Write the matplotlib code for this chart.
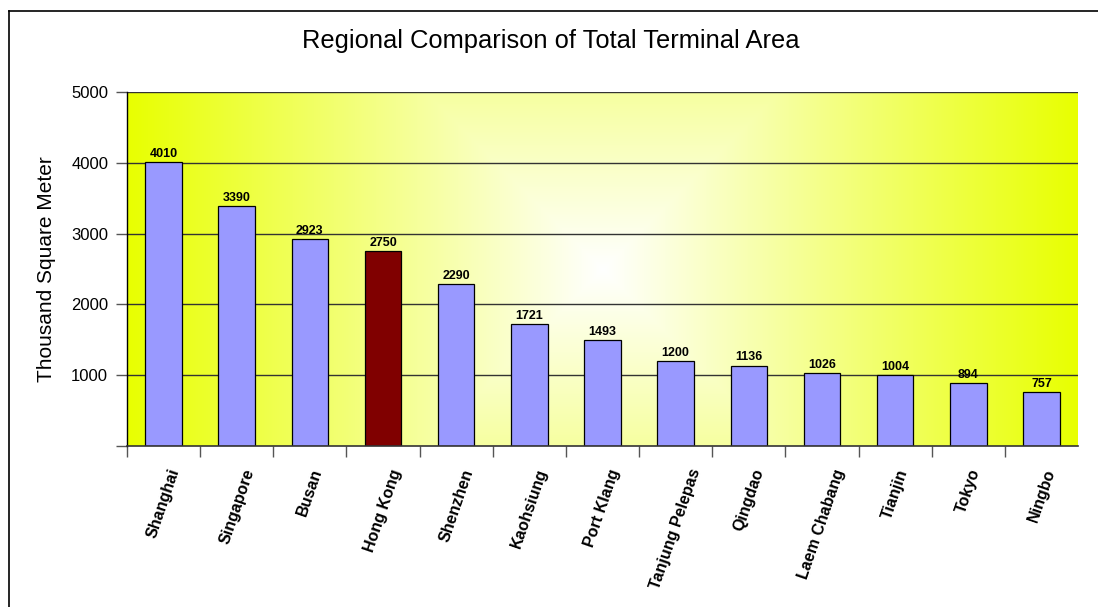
import numpy as np
import matplotlib
matplotlib.use("Agg")
import matplotlib.pyplot as plt
from matplotlib.lines import Line2D

plt.rcParams['font.family'] = ['Liberation Sans', 'DejaVu Sans']

ports = ["Shanghai", "Singapore", "Busan", "Hong Kong", "Shenzhen", "Kaohsiung",
         "Port Klang", "Tanjung Pelepas", "Qingdao", "Laem Chabang", "Tianjin",
         "Tokyo", "Ningbo"]
areas = [4010, 3390, 2923, 2750, 2290, 1721, 1493, 1200, 1136, 1026, 1004, 894, 757]
highlight = "Hong Kong"
yticks = [0, 1000, 2000, 3000, 4000, 5000]

W, H = 1098, 607
fig = plt.figure(figsize=(W / 100, H / 100), dpi=100)
fig.patch.set_facecolor("white")

left, right, top, bottom = 127, 1078, 92, 446
ax = fig.add_axes([left / W, 1 - bottom / H, (right - left) / W, (bottom - top) / H])

n = len(ports)
x = np.arange(n)
ax.set_xlim(-0.5, n - 0.5)
ax.set_ylim(0, 5000)

# rectangular "from centre" gradient fill: white in the middle, yellow at the edges
pw, ph = right - left, bottom - top
xx = np.abs(np.arange(pw) - pw / 2)[None, :]
yy = np.abs(np.arange(ph) - ph / 2)[:, None]
t = np.clip(np.maximum(xx, yy) / (pw / 2), 0, 1)[..., None]
edge = np.array([232, 255, 0]) / 255.0
img = (1 - t) * np.ones(3) + t * edge
ax.imshow(img, extent=(-0.5, n - 0.5, 0, 5000), aspect="auto", zorder=0,
          interpolation="bilinear")

for yv in yticks[1:]:
    ax.axhline(yv, color="#333333", lw=1.0, zorder=1)

colors = ["#800000" if p == highlight else "#9999FF" for p in ports]
bars = ax.bar(x, areas, width=0.5, color=colors, edgecolor="black", linewidth=0.9, zorder=2)
for xi, v in zip(x, areas):
    ax.annotate(f"{v}", (xi, v), xytext=(0, 1.5), textcoords="offset points",
                ha="center", va="bottom", fontsize=9, fontweight="bold", zorder=3)

ax.set_yticks(yticks)
ax.set_yticklabels([""] + [str(v) for v in yticks[1:]], fontsize=12)
ax.tick_params(axis="y", length=8, width=1, color="#555555", pad=5.5, direction="out")

ax.set_xticks(x)
ax.set_xticklabels(ports, rotation=71, ha="center", va="top", fontsize=11.5,
                   fontweight="bold")
ax.set_xticks(np.arange(-0.5, n - 1, 1), minor=True)
ax.tick_params(axis="x", which="major", length=0, pad=15)
ax.tick_params(axis="x", which="minor", length=8, width=1, color="#555555", direction="out")

for s in ("top", "right"):
    ax.spines[s].set_visible(False)
ax.spines["left"].set_color("black")
ax.spines["left"].set_linewidth(1.0)
ax.spines["bottom"].set_color("#333333")
ax.spines["bottom"].set_linewidth(1.2)

ax.set_ylabel("Thousand Square Meter", fontsize=15)
ax.yaxis.set_label_coords(-(127 - 56) / pw, 0.5)

fig.text(551 / W, 1 - 41 / H, "Regional Comparison of Total Terminal Area",
         ha="center", va="center", fontsize=18.4)

# outer chart border (left and top edges)
fig.add_artist(Line2D([8.5 / W, 8.5 / W], [0, 1 - 10.5 / H], transform=fig.transFigure,
                      color="black", lw=1.2))
fig.add_artist(Line2D([8.5 / W, 1], [1 - 10.5 / H, 1 - 10.5 / H], transform=fig.transFigure,
                      color="black", lw=1.2))

fig.savefig("out.png", dpi=100)
